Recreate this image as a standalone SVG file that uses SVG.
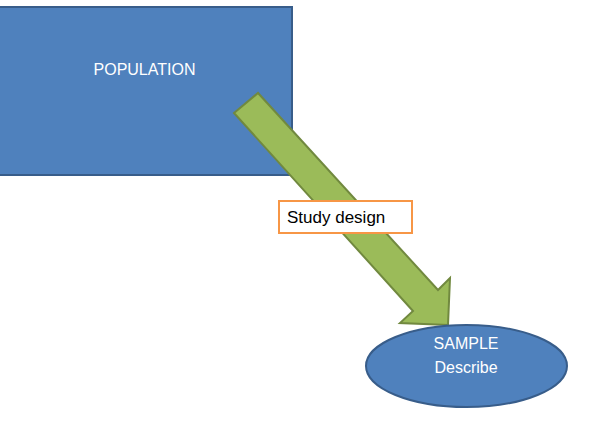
<svg xmlns="http://www.w3.org/2000/svg" width="594" height="426" viewBox="0 0 594 426">
<style>
.node{fill:#4F81BD;stroke:#385D8A;stroke-width:2}
.lbl{font-family:"Liberation Sans",Arial,sans-serif;font-size:16px;fill:#FFFFFF;text-anchor:middle}
.arrow{fill:#9BBB59;stroke:#71893F;stroke-width:2;stroke-linejoin:miter}
.tag{fill:#FFFFFF;stroke:#F79646;stroke-width:2}
.tagtxt{font-family:"Liberation Sans",Arial,sans-serif;font-size:17px;fill:#000000}
</style>
<rect width="594" height="426" fill="#FFFFFF"/>
<g id="population">
<rect class="node" x="-2" y="7" width="294" height="168"/>
<text class="lbl" x="144.5" y="75">POPULATION</text>
</g>
<g id="connectors">
<polygon class="arrow" points="234,113 258,93 438,290 450,278 448,325 400,323 413,311"/>
</g>
<g id="study-design">
<rect class="tag" x="279" y="201" width="133" height="32"/>
<text class="tagtxt" x="287" y="223">Study design</text>
</g>
<g id="sample">
<ellipse class="node" cx="466.5" cy="366" rx="100.5" ry="41"/>
<text class="lbl" x="466" y="349">SAMPLE</text>
<text class="lbl" x="466" y="373">Describe</text>
</g>
</svg>
